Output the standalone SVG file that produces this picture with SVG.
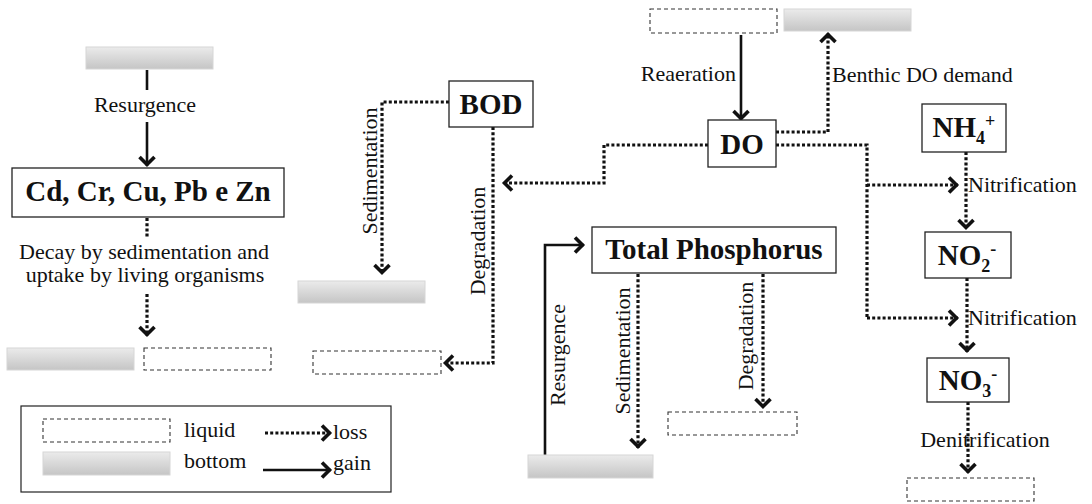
<svg xmlns="http://www.w3.org/2000/svg" width="1092" height="504" viewBox="0 0 1092 504">
<style>
  .lbl { font-family: 'Liberation Serif', Tinos, 'Times New Roman', 'DejaVu Serif', serif; font-size: 22px; fill: #111; }
  .node { font-family: 'Liberation Serif', Tinos, 'Times New Roman', 'DejaVu Serif', serif; font-size: 29px; font-weight: bold; fill: #111; }
  .box { fill: #fff; stroke: #222; stroke-width: 1.3; }
  .liquid { fill: #fff; stroke: #333; stroke-width: 1.1; stroke-dasharray: 4 3; }
  .bottom { fill: url(#grayGrad); stroke: #d6d6d6; stroke-width: 1; }
  .loss { fill: none; stroke: #111; stroke-width: 3.2; stroke-dasharray: 3 2.2; marker-end: url(#chev); }
  .lossn { fill: none; stroke: #111; stroke-width: 3.2; stroke-dasharray: 3 2.2; }
  .gain { fill: none; stroke: #111; stroke-width: 2.6; marker-end: url(#chev); }
  .gainn { fill: none; stroke: #111; stroke-width: 2.6; }
</style>
<defs>
  <linearGradient id="grayGrad" x1="0" y1="0" x2="0" y2="1">
    <stop offset="0" stop-color="#ebebeb"/>
    <stop offset="1" stop-color="#c5c5c5"/>
  </linearGradient>
  <marker id="chev" markerUnits="userSpaceOnUse" viewBox="-12 -10 14 20" refX="0" refY="0" markerWidth="14" markerHeight="20" orient="auto" overflow="visible">
    <path d="M-9,-7.5 L-1.5,0 L-9,7.5" fill="none" stroke="#111" stroke-width="3.6" stroke-dasharray="none" stroke-linejoin="miter"/>
  </marker>
</defs>
<rect width="1092" height="504" fill="#fff"/>

<g id="connectors">
  <path class="gainn" d="M147,70 V90"/>
  <path class="gain" d="M147,122 V166"/>
  <path class="lossn" d="M147,218 V237"/>
  <path class="loss" d="M147,294 V336"/>
  <path class="loss" d="M449,102 H382 V274"/>
  <path class="loss" d="M493,127 V363 H444"/>
  <path class="gain" d="M741,35 V120"/>
  <path class="loss" d="M776,132 H828 V33"/>
  <path class="loss" d="M708,145 H604 V183 H503"/>
  <path class="lossn" d="M776,145 H867 V318"/>
  <path class="loss" d="M867,185 H958"/>
  <path class="loss" d="M867,318 H958"/>
  <path class="loss" d="M966,152 V229"/>
  <path class="loss" d="M967,278 V352"/>
  <path class="loss" d="M968,402 V473"/>
  <path class="gain" d="M545,455 V245 H584"/>
  <path class="loss" d="M638,274 V448"/>
  <path class="loss" d="M763,274 V408"/>
</g>

<g id="labels">
  <text class="lbl" x="145" y="112" text-anchor="middle">Resurgence</text>
  <text class="lbl" x="144" y="259" text-anchor="middle">Decay by sedimentation and</text>
  <text class="lbl" x="145" y="282" text-anchor="middle">uptake by living organisms</text>
  <text class="lbl" transform="translate(377,171) rotate(-90)" text-anchor="middle">Sedimentation</text>
  <text class="lbl" transform="translate(485,241) rotate(-90)" text-anchor="middle">Degradation</text>
  <text class="lbl" x="736" y="81" text-anchor="end">Reaeration</text>
  <text class="lbl" x="832" y="82">Benthic DO demand</text>
  <text class="lbl" x="968" y="192">Nitrification</text>
  <text class="lbl" x="968" y="325">Nitrification</text>
  <text class="lbl" x="985" y="447" text-anchor="middle">Denitrification</text>
  <text class="lbl" transform="translate(565,355) rotate(-90)" text-anchor="middle">Resurgence</text>
  <text class="lbl" transform="translate(630,351) rotate(-90)" text-anchor="middle">Sedimentation</text>
  <text class="lbl" transform="translate(753,336) rotate(-90)" text-anchor="middle">Degradation</text>
</g>

<g id="bottom-metals-source"><rect class="bottom" x="86" y="47" width="127" height="22"/></g>
<g id="node-metals">
  <rect class="box" x="12" y="168" width="272" height="49"/>
  <text class="node" x="148" y="201" text-anchor="middle">Cd, Cr, Cu, Pb e Zn</text>
</g>
<g id="bottom-metals-sink"><rect class="bottom" x="7" y="348" width="127" height="22"/></g>
<g id="liquid-metals-sink"><rect class="liquid" x="144" y="348" width="127" height="22"/></g>

<g id="node-bod">
  <rect class="box" x="449" y="81" width="84" height="46"/>
  <text class="node" x="491" y="114" text-anchor="middle">BOD</text>
</g>
<g id="bottom-bod"><rect class="bottom" x="298" y="281" width="127" height="22"/></g>
<g id="liquid-bod"><rect class="liquid" x="313" y="351" width="128" height="23"/></g>

<g id="liquid-do-source"><rect class="liquid" x="650" y="9" width="127" height="24"/></g>
<g id="bottom-do"><rect class="bottom" x="784" y="9" width="127" height="22"/></g>
<g id="node-do">
  <rect class="box" x="708" y="120" width="68" height="47"/>
  <text class="node" x="742" y="154" text-anchor="middle">DO</text>
</g>

<g id="node-nh4">
  <rect class="box" x="922" y="104" width="84" height="48"/>
  <text class="node" x="964" y="137" text-anchor="middle">NH<tspan font-size="18" dy="7">4</tspan><tspan font-size="18" dy="-17">+</tspan></text>
</g>
<g id="node-no2">
  <rect class="box" x="925" y="232" width="86" height="46"/>
  <text class="node" x="967" y="265" text-anchor="middle">NO<tspan font-size="18" dy="7">2</tspan><tspan font-size="18" dy="-17">-</tspan></text>
</g>
<g id="node-no3">
  <rect class="box" x="927" y="358" width="82" height="44"/>
  <text class="node" x="968" y="390" text-anchor="middle">NO<tspan font-size="18" dy="7">3</tspan><tspan font-size="18" dy="-17">-</tspan></text>
</g>
<g id="liquid-no3"><rect class="liquid" x="907" y="478" width="127" height="23"/></g>

<g id="node-tp">
  <rect class="box" x="592" y="227" width="244" height="46"/>
  <text class="node" x="714" y="259" text-anchor="middle">Total Phosphorus</text>
</g>
<g id="bottom-tp"><rect class="bottom" x="528" y="455" width="125" height="23"/></g>
<g id="liquid-tp"><rect class="liquid" x="668" y="412" width="129" height="23"/></g>

<g id="legend">
  <rect x="21" y="406" width="370" height="86" fill="#fff" stroke="#222" stroke-width="1.2"/>
  <rect class="liquid" x="43" y="419" width="127" height="23"/>
  <rect class="bottom" x="43" y="452" width="127" height="23"/>
  <text class="lbl" x="184" y="437">liquid</text>
  <text class="lbl" x="184" y="468">bottom</text>
  <path class="loss" d="M265,433 H331"/>
  <path class="gain" d="M263,470 H331"/>
  <text class="lbl" x="333" y="439">loss</text>
  <text class="lbl" x="333" y="470">gain</text>
</g>
</svg>
